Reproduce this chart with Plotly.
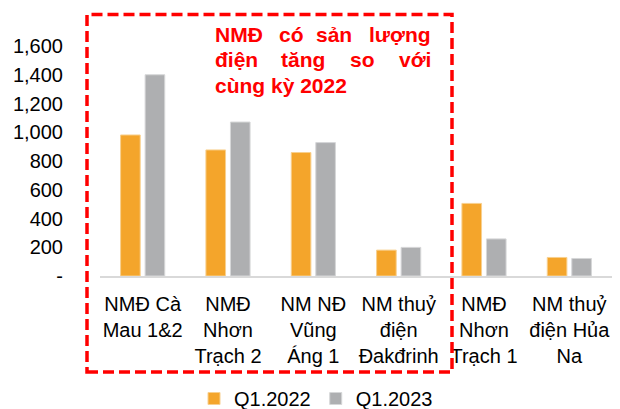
import plotly.graph_objects as go

categories = ["NMĐ Cà<br>Mau 1&2", "NMĐ<br>Nhơn<br>Trạch 2", "NM NĐ<br>Vũng<br>Áng 1",
              "NM thuỷ<br>điện<br>Đakđrinh", "NMĐ<br>Nhơn<br>Trạch 1", "NM thuỷ<br>điện Hủa<br>Na"]
q1_2022 = [981, 877, 859, 180, 505, 129]
q1_2023 = [1400, 1071, 928, 199, 258, 122]
tick_vals = [0, 200, 400, 600, 800, 1000, 1200, 1400, 1600]
tick_text = ["-", "200", "400", "600", "800", "1,000", "1,200", "1,400", "1,600"]

W, H = 620, 430
OFF = 8  # page body margin in the browser
ML, MR, MT = 92, 16, 38
BASE = 268  # x-axis line, in figure pixels
MB = H - BASE
PW, PH = W - ML - MR, H - MT - MB

def px(x):
    return (x - OFF - ML) / PW

def py(y):
    return (H - MB - (y - OFF)) / PH

FONT = "Liberation Sans, Arial, sans-serif"
ORANGE = "#F4A52B"
GRAY = "#AEAFB1"
RED = "#FF0000"

fig = go.Figure()
fig.add_trace(go.Bar(name="Q1.2022", x=categories, y=q1_2022,
                     marker=dict(color=ORANGE, line=dict(color="#F8D08F", width=1))))
fig.add_trace(go.Bar(name="Q1.2023", x=categories, y=q1_2023,
                     marker=dict(color=GRAY, line=dict(color="#D6D7D8", width=1))))

shapes = [dict(type="rect", xref="paper", yref="paper",
               x0=px(87), x1=px(452), y0=py(372), y1=py(14.5),
               line=dict(color=RED, width=3.5, dash="11px,5px"), fillcolor="rgba(0,0,0,0)")]

lines = [
    [("NMĐ", 212.7, "left"), ("có", 291, "center"), ("sản", 333.5, "center"), ("lượng", 433, "right")],
    [("điện", 212.7, "left"), ("tăng", 303.3, "center"), ("so", 362.5, "center"), ("với", 433, "right")],
    [("cùng kỳ 2022", 212.7, "left")],
]
line_y = [34, 59.5, 85]
annotations = []
for words, yy in zip(lines, line_y):
    for w, xx, anc in words:
        annotations.append(dict(text=w, xref="paper", yref="paper", x=px(xx), y=py(yy),
                                xanchor=anc, yanchor="middle", showarrow=False,
                                font=dict(family=FONT, size=21, color=RED, weight="bold")))

fig.update_layout(
    width=W, height=H,
    margin=dict(l=ML, r=MR, t=MT, b=MB, autoexpand=False),
    paper_bgcolor="white", plot_bgcolor="white",
    barmode="group", bargap=0.425, bargroupgap=0.2,
    font=dict(family=FONT, size=20, color="black"),
    showlegend=True,
    legend=dict(orientation="h", x=px(316), xanchor="center", y=py(398.5), yanchor="middle",
                font=dict(size=20), itemwidth=30, tracegroupgap=0),
    shapes=shapes,
    annotations=annotations,
)
fig.update_xaxes(showgrid=False, showline=True, linecolor="#D9D9D9", linewidth=1.5,
                 ticks="", tickfont=dict(size=20), tickangle=0, ticklabelstandoff=9)
fig.update_yaxes(range=[0, 1600], showgrid=False, zeroline=False, showline=False,
                 tickvals=tick_vals, ticktext=tick_text, ticks="",
                 tickfont=dict(size=20), ticklabelstandoff=36)

fig.write_html("out.html")
